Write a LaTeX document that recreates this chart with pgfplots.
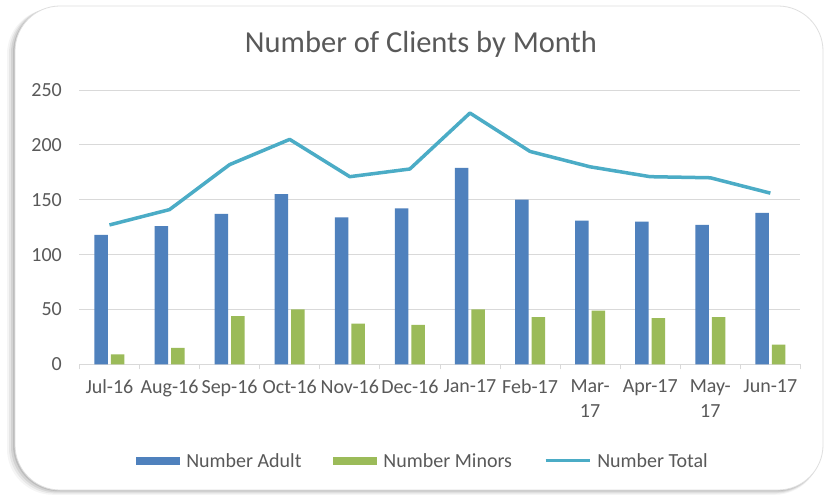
\documentclass[border=0pt]{standalone}
\usepackage{fontspec}
\setmainfont{Carlito}
\usepackage{pgfplots}
\pgfplotsset{compat=1.18}
\definecolor{adult}{HTML}{4F81BD}
\definecolor{minor}{HTML}{9BBB59}
\definecolor{total}{HTML}{4BACC6}
\definecolor{txt}{HTML}{595959}
\definecolor{gridc}{HTML}{D9D9D9}
\begin{document}
\begin{tikzpicture}[x=1pt,y=1pt]
\fill[white] (0,0) rectangle (834,496);
% shadow
\foreach \o/\op in {8/0.04,6/0.06,4/0.08,2/0.10}{
  \fill[black,opacity=\op,rounded corners=46pt] (15-\o,6-\o*0.6) rectangle (823-\o*0.3,490-\o*0.3);
}
\fill[white,rounded corners=45pt] (15,6) rectangle (823,490);
\draw[gray!25,line width=0.8pt,rounded corners=45pt] (15,6) rectangle (823,490);
\node[font=\fontsize{30.5}{34}\selectfont, text=txt] at (421,452) {Number of Clients by Month};
\begin{axis}[
  scale only axis,
  width=721pt, height=274.3pt,
  at={(79.4pt,131.7pt)}, anchor=south west,
  xmin=-0.5, xmax=11.5,
  ymin=0, ymax=250,
  ytick={0,50,...,250},
  xtick={0,...,11},
  xticklabels={Jul-16,Aug-16,Sep-16,Oct-16,Nov-16,Dec-16,Jan-17,Feb-17,Mar-\\17,Apr-17,May-\\17,Jun-17},
  xticklabel style={align=center, font=\fontsize{20}{25}\selectfont, text=txt, yshift=-12pt},
  yticklabel style={font=\fontsize{20}{24}\selectfont, text=txt, xshift=-14pt},
  /pgf/number format/assume math mode=true,
  minor xtick={-0.5,0.5,...,11.5},
  major tick length=0pt,
  minor tick length=5pt,
  tick align=outside,
  xtick pos=bottom, ytick pos=left,
  minor tick style={gridc, line width=0.8pt},
  axis lines*=left,
  x axis line style={gridc, line width=0.8pt},
  y axis line style={draw=none},
  ymajorgrids,
  major grid style={gridc, line width=0.8pt},
  ybar=3pt, bar width=13.5pt,
  legend style={at={(0.4766,-0.3525)}, anchor=center, draw=none, fill=none,
    legend columns=3, font=\fontsize{20}{24}\selectfont, text=txt,
    /tikz/every even column/.append style={column sep=30pt}},
  legend cell align=left,
  clip=false,
]
\addplot[fill=adult, draw=none, bar shift=-8.25pt,
  legend image code/.code={\fill[adult] (0pt,-4pt) rectangle (44pt,4pt); \path (48pt,0pt);}]
  coordinates {(0,118) (1,126) (2,137) (3,155) (4,134) (5,142) (6,179) (7,150) (8,131) (9,130) (10,127) (11,138)};
\addlegendentry{Number Adult}
\addplot[fill=minor, draw=none, bar shift=8.25pt,
  legend image code/.code={\fill[minor] (0pt,-4pt) rectangle (44pt,4pt); \path (48pt,0pt);}]
  coordinates {(0,9) (1,15) (2,44) (3,50) (4,37) (5,36) (6,50) (7,43) (8,49) (9,42) (10,43) (11,18)};
\addlegendentry{Number Minors}
\addplot[sharp plot, total, line width=3.5pt, mark=none, line join=round,
  legend image code/.code={\draw[total, line width=3pt] (0pt,0pt) -- (44pt,0pt); \path (48pt,0pt);}]
  coordinates {(0,127) (1,141) (2,182) (3,205) (4,171) (5,178) (6,229) (7,194) (8,180) (9,171) (10,170) (11,156)};
\addlegendentry{Number Total}
\end{axis}
\end{tikzpicture}
\end{document}
